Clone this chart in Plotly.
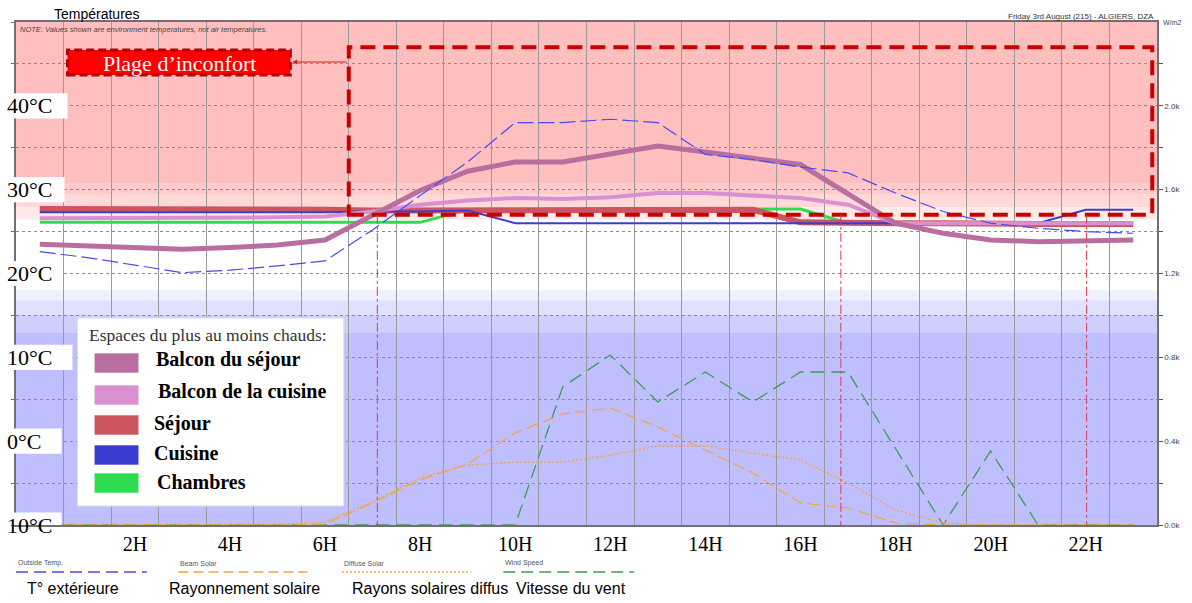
import plotly.graph_objects as go

# ---------------- data ----------------
hours = list(range(24))
hour_ticks = [2, 4, 6, 8, 10, 12, 14, 16, 18, 20, 22]
hour_labels = ["2H", "4H", "6H", "8H", "10H", "12H", "14H", "16H", "18H", "20H", "22H"]

temp_ticks = [40, 30, 20, 10, 0, -10]
temp_labels = ["40°C", "30°C", "20°C", "10°C", "0°C", "10°C"]

wm2_ticks = [0, 200, 400, 600, 800, 1000, 1200, 1400, 1600, 1800, 2000, 2200]
wm2_labels = ["0.0k", "", "0.4k", "", "0.8k", "", "1.2k", "", "1.6k", "", "2.0k", ""]

outside_temp = [22.6, 21.9, 21.0, 20.1, 20.4, 20.9, 21.5, 25.2, 29.3, 33.3, 38.0, 38.0,
                38.4, 38.0, 34.2, 33.6, 32.7, 32.0, 29.6, 27.4, 26.0, 25.4, 25.0, 24.8]
balcon_sejour = [23.5, 23.3, 23.1, 22.9, 23.1, 23.4, 24.0, 27.0, 29.9, 32.2, 33.3, 33.3,
                 34.2, 35.2, 34.5, 33.8, 33.0, 29.5, 26.0, 24.8, 24.0, 23.8, 23.9, 24.0]
balcon_cuisine = [26.6, 26.6, 26.6, 26.6, 26.6, 26.7, 26.8, 27.4, 28.2, 28.7, 29.0, 28.9,
                  29.1, 29.6, 29.6, 29.3, 29.0, 28.2, 26.0, 26.0, 26.0, 26.0, 26.0, 26.0]
sejour = [27.7, 27.7, 27.7, 27.7, 27.7, 27.7, 27.6, 27.5, 27.5, 27.5, 27.5, 27.5,
          27.5, 27.5, 27.6, 27.6, 26.1, 26.0, 26.0, 26.0, 25.9, 25.9, 25.9, 25.9]
cuisine = [27.3, 27.3, 27.3, 27.3, 27.3, 27.3, 27.3, 27.4, 27.4, 27.5, 26.0, 26.0,
           26.0, 26.0, 26.0, 26.0, 26.0, 26.0, 26.0, 26.0, 26.0, 26.0, 27.6, 27.6]
chambres = [26.1, 26.1, 26.1, 26.1, 26.1, 26.1, 26.1, 26.1, 26.1, 27.6, 27.6, 27.6,
            27.6, 27.6, 27.6, 27.7, 27.7, 26.0, 26.0, 26.0, 26.0, 26.0, 26.0, 26.0]

beam_solar = [0, 0, 0, 0, 0, 0, 5, 105, 215, 291, 439, 530,
              558, 468, 358, 248, 105, 81, 10, 0, 0, 0, 0, 0]
diffuse_solar = [0, 0, 0, 0, 0, 3, 15, 110, 225, 286, 300, 300,
                 334, 377, 377, 343, 310, 200, 72, 10, 0, 0, 0, 0]
wind_speed = [0, 0, 0, 0, 0, 0, 0, 0, 0, 0, 0, 659,
              811, 587, 730, 587, 730, 730, 367, 0, 353, 0, 0, 0]

room_names = ["Balcon du séjour", "Balcon de la cuisine", "Séjour", "Cuisine", "Chambres"]
room_colors = ["#B86FA0", "#DA90D0", "#CD5560", "#3C3CD0", "#2EDC50"]

comfort_limit = 27.0
comfort_box_hours = [6.5, 23.4]
comfort_box_top = 47.0
threshold_crossings = [7.1, 16.85, 22.02]

# ---------------- geometry helpers ----------------
W, H = 1192, 603
ML, MR, MT, MB = 16, 24, 22, 78
PW, PH = W - ML - MR, H - MT - MB


def px(x):
    return (x - ML) / PW


def py(y):
    return (H - MB - y) / PH


fig = go.Figure()

# solar & wind (right axis)
fig.add_trace(go.Scatter(x=hours, y=wind_speed, yaxis="y2", mode="lines", name="Wind Speed",
                         line=dict(color="#3E9C55", width=1.3, dash="14px,7px")))
fig.add_trace(go.Scatter(x=hours, y=diffuse_solar, yaxis="y2", mode="lines", name="Diffuse Solar",
                         line=dict(color="#F5A33A", width=1.3, dash="2px,2px")))
fig.add_trace(go.Scatter(x=hours, y=beam_solar, yaxis="y2", mode="lines", name="Beam Solar",
                         line=dict(color="#F5A33A", width=1.2, dash="12px,5px")))

# room temperatures
series = {
    "Chambres": (chambres, room_colors[4], 3),
    "Séjour": (sejour, room_colors[2], 6),
    "Cuisine": (cuisine, room_colors[3], 2),
    "Balcon de la cuisine": (balcon_cuisine, room_colors[1], 4),
    "Balcon du séjour": (balcon_sejour, room_colors[0], 5),
}
for name, (vals, col, w) in series.items():
    fig.add_trace(go.Scatter(x=hours, y=vals, mode="lines", name=name,
                             line=dict(color=col, width=w)))

fig.add_trace(go.Scatter(x=hours, y=outside_temp, mode="lines", name="Outside Temp.",
                         line=dict(color="#4A4AF5", width=1.2, dash="16px,5px")))

shapes = []
# background bands
bands = [(30.8, 50, "#FFBFBF"), (29.4, 30.8, "#FFCACA"), (27.9, 29.4, "#FFD8D8"),
         (26.4, 27.9, "#FFE9E9"), (18.0, 26.4, "#FFFFFF"), (16.8, 18.0, "#F0F0FF"),
         (15.1, 16.8, "#E0E0FF"), (12.9, 15.1, "#CFCFFF"), (-10, 12.9, "#BFBFFF")]
for y0, y1, c in bands:
    shapes.append(dict(type="rect", xref="paper", yref="y", x0=0, x1=1, y0=y0, y1=y1,
                       fillcolor=c, line=dict(width=0), layer="below"))

# comfort box
shapes.append(dict(type="rect", xref="x", yref="y", x0=comfort_box_hours[0], x1=comfort_box_hours[1],
                   y0=comfort_limit, y1=comfort_box_top, line=dict(color="#C80000", width=4, dash="15px,8px"),
                   fillcolor="rgba(0,0,0,0)", layer="above"))
# threshold crossings
for xc in threshold_crossings:
    shapes.append(dict(type="line", xref="x", yref="y", x0=xc, x1=xc, y0=comfort_limit, y1=-10,
                       line=dict(color="#E03A4A", width=1, dash="dashdot"), layer="above"))

# label box "Plage d'inconfort"
shapes.append(dict(type="rect", xref="paper", yref="paper", x0=px(68), x1=px(293), y0=py(75), y1=py(50),
                   fillcolor="#FF0000", line=dict(color="#B80000", width=3, dash="8px,4px"), layer="above"))

# left temperature label white boxes
box_right = [68, 65, 62, 73, 62, 62]
for v, xr in zip(temp_ticks, box_right):
    shapes.append(dict(type="rect", xref="paper", yref="y", x0=px(0), x1=px(xr), y0=v - 1.5, y1=v + 1.5,
                       fillcolor="white", line=dict(width=0), layer="above"))

# legend box
shapes.append(dict(type="rect", xref="paper", yref="paper", x0=px(78), x1=px(347), y0=py(506), y1=py(318),
                   fillcolor="white", line=dict(color="#DDDDDD", width=1), layer="above"))
legend_y = [363, 395, 425, 455, 483]
for yc, col in zip(legend_y, room_colors):
    shapes.append(dict(type="rect", xref="paper", yref="paper", x0=px(95), x1=px(140),
                       y0=py(yc + 10), y1=py(yc - 10), fillcolor=col,
                       line=dict(color="rgba(255,255,255,0.6)", width=1), layer="above"))

# bottom legend line samples
bottom_legend = [(16, 148, "#4A4AF5", "12px,6px"), (180, 310, "#F5A33A", "10px,5px"),
                 (345, 475, "#F5A33A", "2px,2px"), (508, 640, "#3E9C55", "12px,6px")]
for x0, x1, col, dash in bottom_legend:
    shapes.append(dict(type="line", xref="paper", yref="paper", x0=px(x0), x1=px(x1), y0=py(572), y1=py(572),
                       line=dict(color=col, width=1.3, dash=dash)))

ann = []
# left temperature labels
for v, t in zip(temp_ticks, temp_labels):
    ann.append(dict(text=t, xref="paper", yref="y", x=px(5), y=v, xanchor="left", yanchor="middle",
                    showarrow=False, font=dict(family="Liberation Serif", size=22, color="black")))

ann.append(dict(text="Plage d’inconfort", xref="paper", yref="paper", x=px(181), y=py(63),
                xanchor="center", yanchor="middle", showarrow=False,
                font=dict(family="Liberation Serif", size=22, color="white")))
ann.append(dict(text="", xref="paper", yref="paper", x=px(295), y=py(62), ax=56, ay=0,
                showarrow=True, arrowhead=2, arrowsize=1, arrowwidth=1, arrowcolor="#D02020"))

ann.append(dict(text="Températures", xref="paper", yref="paper", x=px(52), y=py(14), xanchor="left",
                yanchor="middle", showarrow=False, font=dict(family="Liberation Sans", size=14, color="black")))
ann.append(dict(text="<i>NOTE: Values shown are environment temperatures, not air temperatures.</i>",
                xref="paper", yref="paper", x=px(18), y=py(30), xanchor="left", yanchor="middle",
                showarrow=False, font=dict(family="Liberation Sans", size=7.5, color="#444444")))
ann.append(dict(text="Friday 3rd August (215) - ALGIERS, DZA", xref="paper", yref="paper", x=px(1167),
                y=py(16), xanchor="right", yanchor="middle", showarrow=False,
                font=dict(family="Liberation Sans", size=8, color="#333333")))
ann.append(dict(text="W/m2", xref="paper", yref="paper", x=px(1172), y=py(22), xanchor="left",
                yanchor="middle", showarrow=False, font=dict(family="Liberation Sans", size=7, color="#444444")))

# legend text
ann.append(dict(text="Espaces du plus au moins chauds:", xref="paper", yref="paper", x=px(88), y=py(335),
                xanchor="left", yanchor="middle", showarrow=False,
                font=dict(family="Liberation Serif", size=17.5, color="#333333")))
legend_text_x = [155, 157, 153, 153, 156]
legend_text_y = [360, 391, 423, 453, 482]
for name, xt, yt in zip(room_names, legend_text_x, legend_text_y):
    ann.append(dict(text="<b>" + name + "</b>", xref="paper", yref="paper", x=px(xt), y=py(yt),
                    xanchor="left", yanchor="middle", showarrow=False,
                    font=dict(family="Liberation Serif", size=20, color="black")))

# bottom legend texts
small_names = [("Outside Temp.", 16), ("Beam Solar", 180), ("Diffuse Solar", 345), ("Wind Speed", 508)]
for t, x0 in small_names:
    ann.append(dict(text=t, xref="paper", yref="paper", x=px(x0), y=py(563), xanchor="left",
                    yanchor="middle", showarrow=False,
                    font=dict(family="Liberation Sans", size=7, color="#555555")))
fr_names = [("T° extérieure", 25), ("Rayonnement solaire", 168), ("Rayons solaires diffus", 353),
            ("Vitesse du vent", 519)]
for t, x0 in fr_names:
    ann.append(dict(text=t, xref="paper", yref="paper", x=px(x0), y=py(588), xanchor="left",
                    yanchor="middle", showarrow=False,
                    font=dict(family="Liberation Sans", size=16, color="black")))

fig.update_layout(
    width=W, height=H,
    margin=dict(l=ML, r=MR, t=MT, b=MB),
    paper_bgcolor="white", plot_bgcolor="rgba(0,0,0,0)",
    showlegend=False,
    shapes=shapes, annotations=ann,
    xaxis=dict(range=[-0.5, 23.5], tickmode="array", tickvals=hour_ticks, ticktext=hour_labels,
               showgrid=False, zeroline=False, ticks="", showline=True, mirror=True,
               linecolor="#707070", linewidth=1.5,
               tickfont=dict(family="Liberation Serif", size=20, color="black"),
               minor=dict(tickmode="array", tickvals=[h + 0.5 for h in hours[:-1]], showgrid=True,
                          gridcolor="#9A9A9A", gridwidth=1.3, ticks="")),
    yaxis=dict(range=[-10, 50], tickmode="linear", tick0=-10, dtick=5, showticklabels=False,
               showgrid=True, gridcolor="#8C8C8C", gridwidth=1, griddash="dot", zeroline=False,
               ticks="outside", ticklen=3, tickcolor="#707070",
               showline=True, mirror=True, linecolor="#707070", linewidth=1.5),
    yaxis2=dict(overlaying="y", side="right", range=[0, 2400], tickmode="array", tickvals=wm2_ticks,
                ticktext=wm2_labels, ticks="outside", ticklen=4, tickcolor="#555555", showgrid=False,
                zeroline=False, showline=True, linecolor="#707070", linewidth=1.5,
                tickfont=dict(family="Liberation Sans", size=8, color="#444444")),
)

fig.write_html("out.html", config={"displayModeBar": False},
               post_script="document.body.style.margin='0px';")
